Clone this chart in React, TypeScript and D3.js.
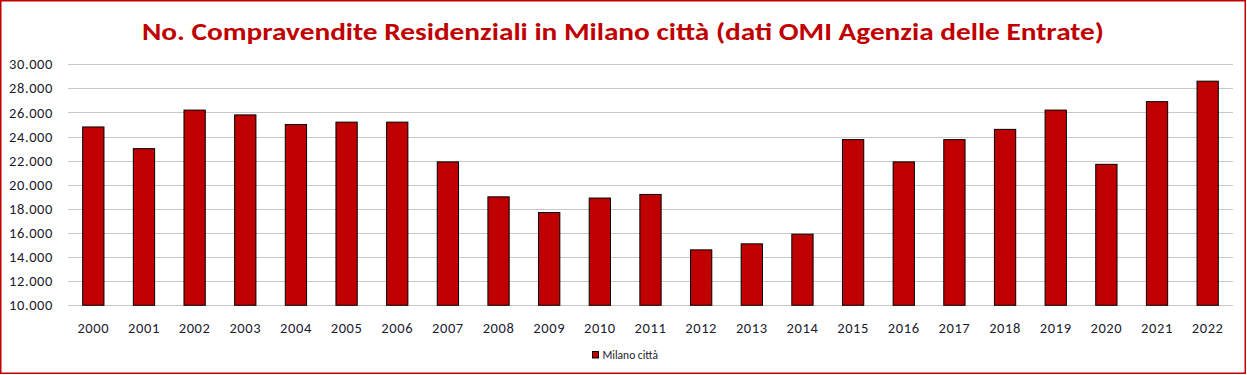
import React from "react";
import * as d3 from "d3";

const years = ["2000","2001","2002","2003","2004","2005","2006","2007","2008","2009","2010","2011","2012","2013","2014","2015","2016","2017","2018","2019","2020","2021","2022"];
const sales = [24800,23000,26200,25800,25000,25200,25200,21900,19000,17700,18900,19200,14600,15100,15900,23750,21900,23750,24600,26200,21700,26900,28600];
const yTicks = [10000,12000,14000,16000,18000,20000,22000,24000,26000,28000,30000];
const title = "No. Compravendite Residenziali in Milano città (dati OMI Agenzia delle Entrate)";
const seriesName = "Milano città";

const W = 1247, H = 375;
const left = 68, right = 1233, top = 64.3, bottom = 305.3;

export default function App() {
  const x = d3.scaleBand<string>().domain(years).range([left, right]).paddingInner(0.58).paddingOuter(0.29);
  const y = d3.scaleLinear().domain([10000, 30000]).range([bottom, top]);
  const fmt = (v: number) => d3.format(",")(v).replace(/,/g, ".");
  const font = "Calibri, Carlito, 'Open Sans', 'Noto Sans', sans-serif";
  return (
    <svg width={W} height={H} style={{ position: "absolute", left: 0, top: 0, background: "#fff" }} fontFamily={font}>
      <rect x={0} y={0} width={W} height={H} fill="#fff" />
      <rect x={0.75} y={0.75} width={1244.5} height={372.5} fill="none" stroke="#C00000" strokeWidth={1.5} />
      <text x={623} y={40} textAnchor="middle" fill="#C00000" fontWeight="bold" fontSize={25} textLength={962} lengthAdjust="spacingAndGlyphs">{title}</text>
      {yTicks.map(t => (
        <g key={t}>
          <line x1={left} x2={right} y1={Math.round(y(t)) + 0.5} y2={Math.round(y(t)) + 0.5} stroke="#C8C8C8" strokeWidth={1} />
          <text x={53} y={y(t) + 5} textAnchor="end" fontSize={14.5} letterSpacing={0.6} fill="#1a1a2e">{fmt(t)}</text>
        </g>
      ))}
      {years.map((yr, i) => (
        <g key={yr}>
          <rect x={x(yr)!} y={y(sales[i])} width={x.bandwidth()} height={bottom - y(sales[i])} fill="#C00000" stroke="#000" strokeWidth={1} />
          <text x={x(yr)! + x.bandwidth() / 2} y={333} textAnchor="middle" fontSize={14.5} letterSpacing={0.6} fill="#1a1a2e">{yr}</text>
        </g>
      ))}
      <rect x={592.5} y={351.5} width={6} height={6.5} fill="#C00000" stroke="#000" strokeWidth={1} />
      <text x={602.5} y={358.5} fontSize={11.5} fill="#1a1a2e">{seriesName}</text>
    </svg>
  );
}
